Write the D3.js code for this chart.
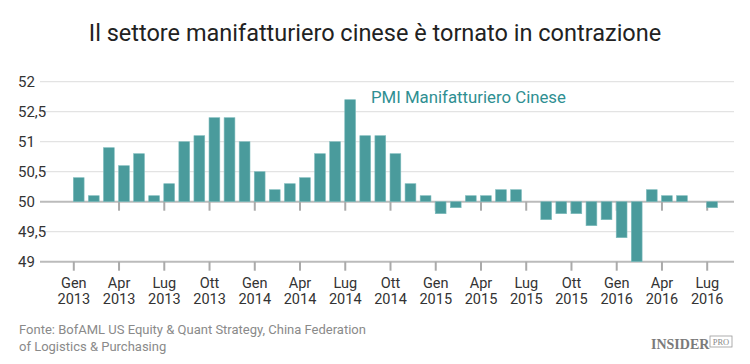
<!DOCTYPE html>
<html>
<head>
<meta charset="utf-8">
<script src="https://cdn.jsdelivr.net/npm/d3@7"></script>
<style>
  body { margin: 0; background: #fff; }
  text { font-family: Roboto, "Noto Sans", sans-serif; }
</style>
</head>
<body>
<div id="chart"></div>
<script>
// monthly PMI, Gen 2013 .. Lug 2016
var months = ["Gen 2013","Feb 2013","Mar 2013","Apr 2013","Mag 2013","Giu 2013","Lug 2013","Ago 2013","Set 2013","Ott 2013","Nov 2013","Dic 2013",
              "Gen 2014","Feb 2014","Mar 2014","Apr 2014","Mag 2014","Giu 2014","Lug 2014","Ago 2014","Set 2014","Ott 2014","Nov 2014","Dic 2014",
              "Gen 2015","Feb 2015","Mar 2015","Apr 2015","Mag 2015","Giu 2015","Lug 2015","Ago 2015","Set 2015","Ott 2015","Nov 2015","Dic 2015",
              "Gen 2016","Feb 2016","Mar 2016","Apr 2016","Mag 2016","Giu 2016","Lug 2016"];
var pmi = [50.4,50.1,50.9,50.6,50.8,50.1,50.3,51.0,51.1,51.4,51.4,51.0,
           50.5,50.2,50.3,50.4,50.8,51.0,51.7,51.1,51.1,50.8,50.3,50.1,
           49.8,49.9,50.1,50.1,50.2,50.2,50.0,49.7,49.8,49.8,49.6,49.7,
           49.4,49.0,50.2,50.1,50.1,50.0,49.9];
var yTicks = [52, 51.5, 51, 50.5, 50, 49.5, 49];
var yTickLabels = ["52", "52,5", "51", "50,5", "50", "49,5", "49"];
var xTickIdx = [0,3,6,9,12,15,18,21,24,27,30,33,36,39,42];
var xTickMonth = ["Gen","Apr","Lug","Ott"];

var W = 750, H = 364;
var teal = "#4a9b9c";

var svg = d3.select("#chart").append("svg")
    .attr("width", W).attr("height", H);

var x = d3.scaleLinear().domain([0, 42]).range([73.3, 706.7]);
var y = d3.scaleLinear().domain([49, 52]).range([261.7, 81.7]);
var barW = 10.8;
var gridL = 40, gridR = 734;

// title
svg.append("text")
    .attr("x", W / 2).attr("y", 41)
    .attr("text-anchor", "middle")
    .style("font-size", "23.5px")
    .attr("fill", "#222")
    .text("Il settore manifatturiero cinese è tornato in contrazione");

// gridlines
svg.append("g").selectAll("line")
    .data(yTicks.filter(function(d) { return d !== 50 && d !== 49; }))
    .join("line")
    .attr("x1", gridL).attr("x2", gridR)
    .attr("y1", function(d) { return y(d); })
    .attr("y2", function(d) { return y(d); })
    .attr("stroke", "#e3e3e3").attr("stroke-width", 1.2);

// y labels
svg.append("g").selectAll("text")
    .data(yTicks)
    .join("text")
    .attr("x", 18)
    .attr("y", function(d) { return y(d); })
    .attr("dy", "0.35em")
    .style("font-size", "15px")
    .attr("fill", "#333")
    .text(function(d, i) { return yTickLabels[i]; });

// bottom axis
var xAxis = d3.axisBottom(x)
    .tickValues(xTickIdx)
    .tickSize(9)
    .tickFormat(function(d) { return xTickMonth[(d / 3) % 4]; });
var gx = svg.append("g")
    .attr("transform", "translate(0," + y(49) + ")")
    .call(xAxis);
gx.select(".domain").remove();
gx.selectAll(".tick line").attr("stroke", "#aaa").attr("stroke-width", 2);
gx.insert("line", ":first-child")
    .attr("x1", gridL).attr("x2", gridR)
    .attr("stroke", "#bbb").attr("stroke-width", 2);
gx.selectAll(".tick text")
    .attr("fill", "#333")
    .attr("y", 26)
    .attr("dy", null)
    .style("font-size", "14.5px");
// year on second line
gx.selectAll(".tick").append("text")
    .attr("fill", "#333")
    .attr("y", 42.5)
    .attr("text-anchor", "middle")
    .style("font-size", "14.5px")
    .text(function(d) { return 2013 + Math.floor(d / 12); });

// zero (50) axis with ticks only
var midAxis = d3.axisBottom(x)
    .tickValues(xTickIdx.slice(1))
    .tickSize(9)
    .tickFormat("");
var gm = svg.append("g")
    .attr("transform", "translate(0," + y(50) + ")")
    .call(midAxis);
gm.select(".domain").remove();
gm.selectAll(".tick line").attr("stroke", "#aaa").attr("stroke-width", 2);
gm.insert("line", ":first-child")
    .attr("x1", gridL).attr("x2", gridR)
    .attr("stroke", "#bbb").attr("stroke-width", 2);

// bars
svg.append("g").selectAll("rect")
    .data(pmi)
    .join("rect")
    .attr("x", function(d, i) { return x(i); })
    .attr("width", barW)
    .attr("y", function(d) { return y(Math.max(d, 50)); })
    .attr("height", function(d) { return Math.abs(y(d) - y(50)); })
    .attr("fill", teal)
    .attr("stroke", "#7fbcbd")
    .attr("stroke-width", 0.6);

// annotation
svg.append("text")
    .attr("x", 371).attr("y", 103)
    .style("font-size", "16.8px")
    .attr("fill", "#2f8f92")
    .text("PMI Manifatturiero Cinese");

// footer
svg.append("text")
    .attr("x", 19).attr("y", 334)
    .attr("fill", "#8a8a8a")
    .style("font-size", "13px")
    .text("Fonte: BofAML US Equity & Quant Strategy, China Federation");
svg.append("text")
    .attr("x", 19).attr("y", 351)
    .attr("fill", "#8a8a8a")
    .style("font-size", "13px")
    .text("of Logistics & Purchasing");

// logo
svg.append("text")
    .attr("x", 651).attr("y", 349)
    .style("font-family", "'Liberation Serif', 'DejaVu Serif', serif")
    .style("font-weight", "bold")
    .style("font-size", "14px")
    .attr("fill", "#7a7a7a")
    .text("INSIDER");
svg.append("rect")
    .attr("x", 710).attr("y", 336).attr("width", 22).attr("height", 11)
    .attr("fill", "none").attr("stroke", "#999").attr("stroke-width", 0.8);
svg.append("text")
    .attr("x", 721).attr("y", 345)
    .attr("text-anchor", "middle")
    .style("font-family", "'Liberation Serif', 'DejaVu Serif', serif")
    .style("font-size", "8.5px")
    .attr("fill", "#888")
    .text("PRO");
</script>
</body>
</html>
